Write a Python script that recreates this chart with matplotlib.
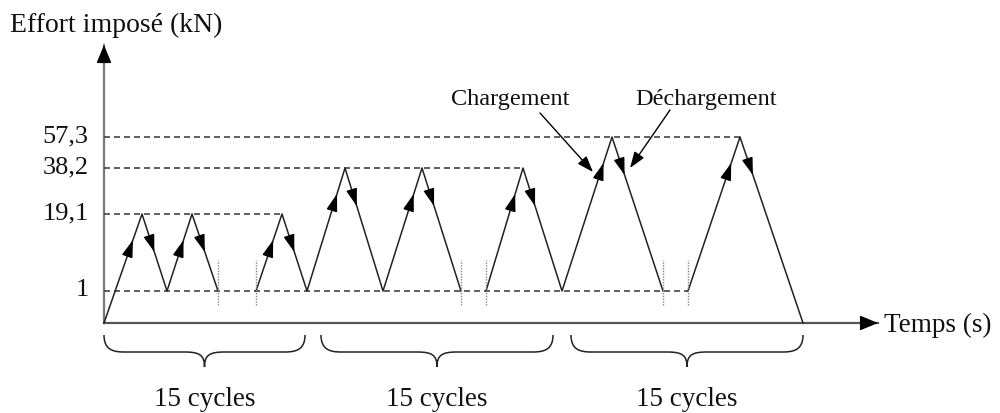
import numpy as np
import matplotlib.pyplot as plt
import matplotlib.transforms as mtransforms
from matplotlib.path import Path
from matplotlib.patches import PathPatch

plt.rcParams['font.family'] = ['Liberation Serif', 'DejaVu Serif']

# force levels (kN) and their labels
levels = [1, 19.1, 38.2, 57.3]
level_labels = ['1', '19,1', '38,2', '57,3']

# load history, split where the time axis is broken (time in arbitrary units)
t_parts = [[0, 38, 63, 88, 114],
           [152, 178, 203, 241, 279, 318, 357],
           [382, 419, 458, 508, 559],
           [584, 636, 699]]
f_parts = [[0, 19.1, 1, 19.1, 1],
           [1, 19.1, 1, 38.2, 1, 38.2, 1],
           [1, 38.2, 1, 57.3, 1],
           [1, 57.3, 0]]

# cycle groups under the time axis
group_spans = [(0, 201), (217, 449), (467, 699)]
group_labels = ['15 cycles', '15 cycles', '15 cycles']

# the force axis is schematic, not to scale
force_marks = [0, 1, 19.1, 38.2, 57.3]
mark_height = [0, 32, 109, 155, 186]
top_slope = 31 / 19.1


def fwd(f):
    f = np.asarray(f, dtype=float)
    h = np.interp(f, force_marks, mark_height)
    h = np.where(f < 0, f * 32, h)
    h = np.where(f > 57.3, 186 + (f - 57.3) * top_slope, h)
    return h


def inv(h):
    h = np.asarray(h, dtype=float)
    f = np.interp(h, mark_height, force_marks)
    f = np.where(h < 0, h / 32, f)
    f = np.where(h > 186, 57.3 + (h - 186) / top_slope, f)
    return f


W, H = 1000, 413
fig = plt.figure(figsize=(W / 100, H / 100), dpi=100)
ax = fig.add_axes([104 / W, (H - 323) / H, 774 / W, 278 / H])
ax.set_xlim(0, 774)
ax.set_yscale('function', functions=(fwd, inv))
ax.set_ylim(0, float(inv(278)))
for s in ax.spines.values():
    s.set_visible(False)
ax.patch.set_alpha(0)
ax.set_xticks([])
ax.set_yticks(levels, level_labels)
ax.minorticks_off()
ax.tick_params(axis='y', length=0, pad=11, labelsize=19, labelcolor='#111')
for lab in ax.get_yticklabels():
    lab.set_transform(lab.get_transform() + mtransforms.ScaledTranslation(0, 0.03, fig.dpi_scale_trans))

line_c = '#222222'
axis_c = '#777777'

# axes with arrow heads
ax.plot([0, 0], [0, 1], transform=ax.transAxes, color=axis_c, lw=1.6, clip_on=False)
ax.plot([0, 1], [0, 0], transform=ax.transAxes, color='#555555', lw=1.6, clip_on=False)
head = dict(arrowstyle='-|>,head_length=0.8,head_width=0.33', mutation_scale=14,
            color='black', lw=1, shrinkA=0, shrinkB=0)
ax.annotate('', xy=(0, 1), xytext=(0, 0.96), xycoords='axes fraction', arrowprops=head)
ax.annotate('', xy=(1, 0), xytext=(0.985, 0), xycoords='axes fraction', arrowprops=head)

# dashed level lines up to the last time each level is reached
t_all = np.concatenate(t_parts)
f_all = np.concatenate(f_parts)
for lev in levels:
    t_end = t_all[f_all == lev].max()
    ax.hlines(lev, 0, t_end, colors='#444444', linestyles=(0, (3.6, 2.4)), lw=1.2)

# load path
for t, f in zip(t_parts, f_parts):
    ax.plot(t, f, color=line_c, lw=1.1, clip_on=False)

# breaks in the time axis
breaks = [p[-1] for p in t_parts[:-1]] + [p[0] for p in t_parts[1:]]
ax.vlines(breaks, inv(32 - 14), inv(32 + 31), colors='#888888',
          linestyles=(0, (1, 1)), lw=1)

# direction arrows on loading / unloading branches
small = dict(arrowstyle='-|>,head_length=0.75,head_width=0.24', mutation_scale=14,
             color='black', lw=1, shrinkA=0, shrinkB=0)
for t, f in zip(t_parts, f_parts):
    for i in range(len(t) - 1):
        t0, t1 = t[i], t[i + 1]
        h0, h1 = fwd(f[i]), fwd(f[i + 1])
        if h1 > h0:
            h_tip = h1 - 26
        else:
            h_tip = h0 - 38
        frac = (h_tip - h0) / (h1 - h0)
        L = np.hypot(t1 - t0, h1 - h0)
        back = frac - 14 / L
        tip = (t0 + frac * (t1 - t0), float(inv(h0 + frac * (h1 - h0))))
        tail = (t0 + back * (t1 - t0), float(inv(h0 + back * (h1 - h0))))
        ax.annotate('', xy=tip, xytext=tail, arrowprops=small)

# braces and group labels below the time axis (y in pixels under the axis)
below = mtransforms.blended_transform_factory(
    ax.transData, mtransforms.Affine2D().scale(1, 1 / 278) + ax.transAxes)
for (x0, x1), lab in zip(group_spans, group_labels):
    xm = (x0 + x1) / 2
    verts = [(x0, -12), (x0, -26), (x0 + 8, -29), (x0 + 20, -29),
             (xm - 20, -29),
             (xm - 5, -29), (xm, -32), (xm, -44),
             (xm, -32), (xm + 5, -29), (xm + 20, -29),
             (x1 - 20, -29),
             (x1 - 8, -29), (x1, -26), (x1, -12)]
    codes = [Path.MOVETO, Path.CURVE4, Path.CURVE4, Path.CURVE4,
             Path.LINETO,
             Path.CURVE4, Path.CURVE4, Path.CURVE4,
             Path.CURVE4, Path.CURVE4, Path.CURVE4,
             Path.LINETO,
             Path.CURVE4, Path.CURVE4, Path.CURVE4]
    ax.add_patch(PathPatch(Path(verts, codes), fc='none', ec=line_c, lw=1.1,
                           transform=below, clip_on=False))
    ax.text(xm, -83, lab, transform=below, ha='center', va='baseline',
            fontsize=19.5, color='#111')

# titles
fig.text(10 / W, (H - 32) / H, 'Effort imposé (kN)', ha='left', va='baseline',
         fontsize=20, color='#111')
fig.text(884 / W, (H - 332) / H, 'Temps (s)', ha='left', va='baseline',
         fontsize=19.5, color='#111')

# callouts
call = dict(arrowstyle='-|>,head_length=0.7,head_width=0.25', mutation_scale=14,
            color='black', lw=1, shrinkA=0, shrinkB=0)
fig.text(510 / W, (H - 105) / H, 'Chargement', ha='center', va='baseline',
         fontsize=17.5, color='#111')
ax.annotate('', xy=(593, H - 172), xytext=(540, H - 113), xycoords='figure pixels',
            arrowprops=call)
fig.text(706 / W, (H - 105) / H, 'Déchargement', ha='center', va='baseline',
         fontsize=17.5, color='#111')
ax.annotate('', xy=(630, H - 168), xytext=(670, H - 110), xycoords='figure pixels',
            arrowprops=call)

fig.savefig('out.png', dpi=100)
